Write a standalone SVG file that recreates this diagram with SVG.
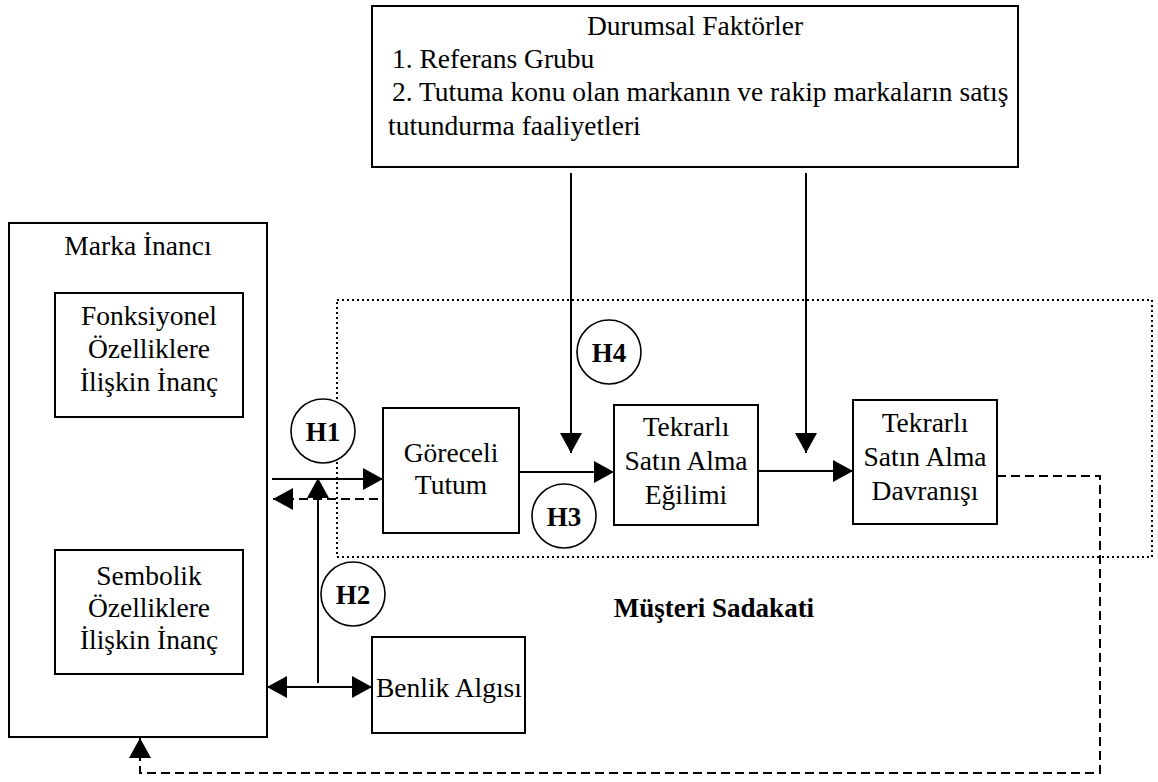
<svg xmlns="http://www.w3.org/2000/svg" width="1158" height="782" viewBox="0 0 1158 782">
<defs>
<marker id="ah" viewBox="0 0 20 22" refX="20" refY="11" markerWidth="20" markerHeight="22" markerUnits="userSpaceOnUse" orient="auto-start-reverse">
<path d="M0,0 L20,11 L0,22 z" fill="#000"/>
</marker>
<style>
.box{fill:#fff;stroke:#000;stroke-width:2}
text{font-family:'Liberation Serif','DejaVu Serif',serif;font-size:27.5px;fill:#000}
.c{text-anchor:middle}
.b{font-weight:bold;font-size:27px}
.hc{fill:#fff;stroke:#000;stroke-width:1.6}
.ln{fill:none;stroke:#000;stroke-width:2}
.dash{fill:none;stroke:#000;stroke-width:2;stroke-dasharray:9 5}
.dot{fill:none;stroke:#000;stroke-width:2;stroke-dasharray:2 3}
</style>
</defs>
<rect width="1158" height="782" fill="#fff"/>

<g id="sadakat-frame">
<rect class="dot" x="337" y="300" width="815" height="257"/>
<text class="c b" x="714" y="617">Müşteri Sadakati</text>
</g>

<g id="durumsal">
<rect class="box" x="372" y="6" width="646" height="161"/>
<text class="c" x="695" y="35">Durumsal Faktörler</text>
<text x="392" y="68">1. Referans Grubu</text>
<text x="392" y="101">2. Tutuma konu olan markanın ve rakip markaların satış</text>
<text x="388" y="135">tutundurma faaliyetleri</text>
</g>

<g id="marka">
<rect class="box" x="9" y="223" width="258" height="514"/>
<text class="c" x="138" y="255">Marka İnancı</text>
</g>

<g id="fonksiyonel">
<rect class="box" x="55" y="293" width="188" height="124"/>
<text class="c" x="149" y="325">Fonksiyonel</text>
<text class="c" x="149" y="358">Özelliklere</text>
<text class="c" x="149" y="391">İlişkin İnanç</text>
</g>

<g id="sembolik">
<rect class="box" x="55" y="550" width="188" height="124"/>
<text class="c" x="149" y="585">Sembolik</text>
<text class="c" x="149" y="617">Özelliklere</text>
<text class="c" x="149" y="649">İlişkin İnanç</text>
</g>

<g id="goreceli">
<rect class="box" x="383" y="408" width="136" height="125"/>
<text class="c" x="451" y="462">Göreceli</text>
<text class="c" x="451" y="494">Tutum</text>
</g>

<g id="egilim">
<rect class="box" x="614" y="405" width="144" height="120"/>
<text class="c" x="686" y="436">Tekrarlı</text>
<text class="c" x="686" y="470">Satın Alma</text>
<text class="c" x="686" y="504">Eğilimi</text>
</g>

<g id="davranis">
<rect class="box" x="853" y="400" width="144" height="124"/>
<text class="c" x="925" y="432">Tekrarlı</text>
<text class="c" x="925" y="466">Satın Alma</text>
<text class="c" x="925" y="500">Davranışı</text>
</g>

<g id="benlik">
<rect class="box" x="372" y="637" width="153" height="96"/>
<text class="c" x="449" y="697">Benlik Algısı</text>
</g>

<g id="connectors">
<line class="ln" x1="272" y1="479" x2="383" y2="479" marker-end="url(#ah)"/>
<line class="dash" x1="378" y1="499" x2="273" y2="499" marker-end="url(#ah)"/>
<line class="ln" x1="318" y1="683" x2="318" y2="478" marker-end="url(#ah)"/>
<line class="ln" x1="267" y1="687" x2="372" y2="687" marker-start="url(#ah)" marker-end="url(#ah)"/>
<line class="ln" x1="519" y1="472" x2="614" y2="472" marker-end="url(#ah)"/>
<line class="ln" x1="758" y1="471" x2="853" y2="471" marker-end="url(#ah)"/>
<line class="ln" x1="571" y1="173" x2="571" y2="453" marker-end="url(#ah)"/>
<line class="ln" x1="806" y1="173" x2="806" y2="453" marker-end="url(#ah)"/>
<polyline class="dash" points="997,476 1100,476 1100,773 140,773 140,738" marker-end="url(#ah)"/>
</g>

<g id="h1"><circle class="hc" cx="323" cy="431" r="32"/><text class="c b" x="323" y="441">H1</text></g>
<g id="h2"><circle class="hc" cx="353" cy="594" r="32"/><text class="c b" x="353" y="604">H2</text></g>
<g id="h3"><circle class="hc" cx="564" cy="516" r="32"/><text class="c b" x="564" y="526">H3</text></g>
<g id="h4"><circle class="hc" cx="609" cy="352" r="32"/><text class="c b" x="609" y="362">H4</text></g>
</svg>
